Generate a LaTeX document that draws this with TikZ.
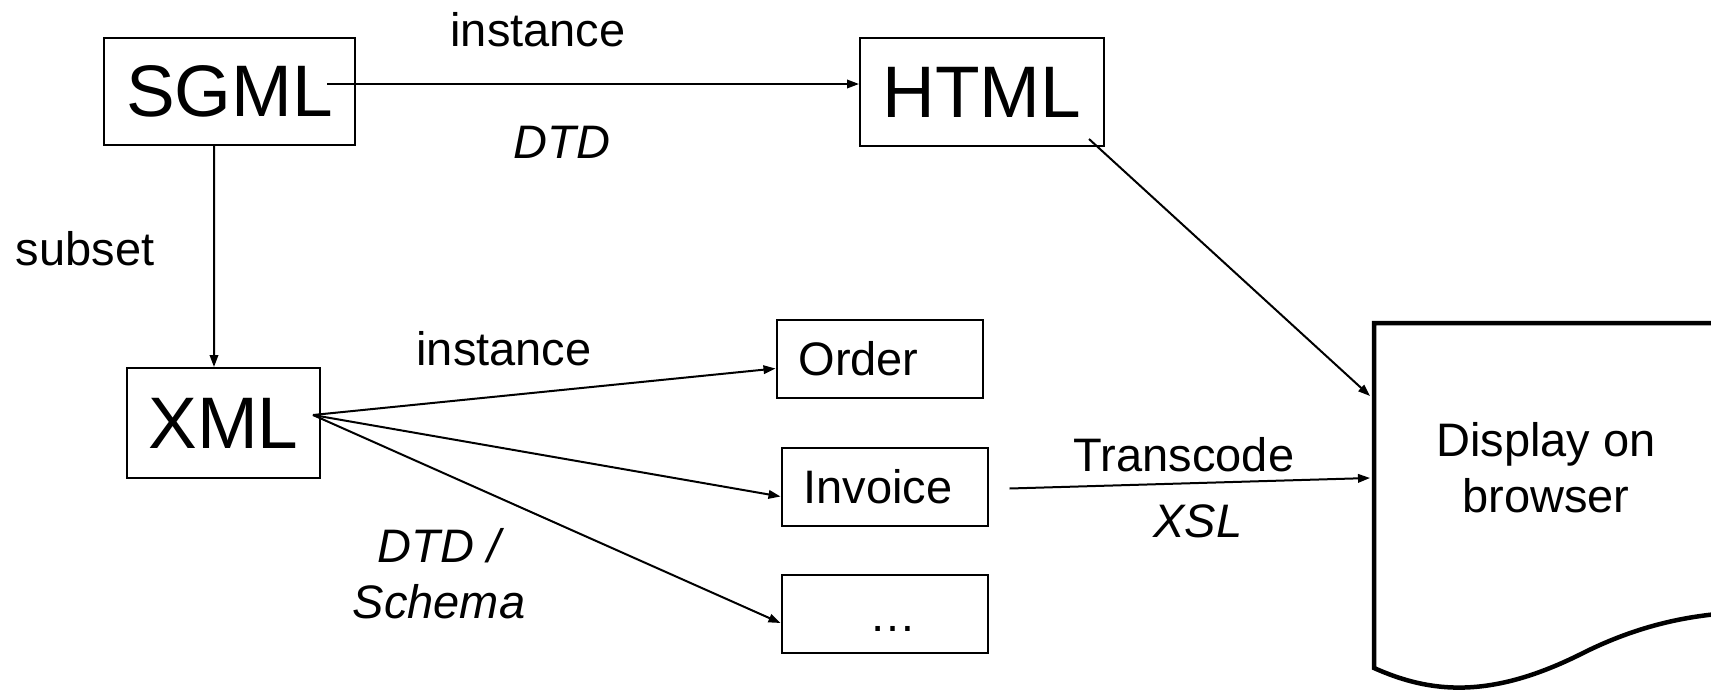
\documentclass[tikz,border=0pt]{standalone}
\usepackage{fontspec}
\setmainfont{Liberation Sans}
\usetikzlibrary{arrows.meta}
\tikzset{
  font={\fontsize{47pt}{56pt}\selectfont}}

\begin{document}
\begin{tikzpicture}[x=10pt,y=10pt]
\tikzstyle{every node}+=[inner sep=0pt]
\tikzstyle{lang}=[draw, line width=2pt, font={\fontsize{73pt}{88pt}\selectfont}]
\tikzstyle{doc}=[draw, line width=2pt, align=left, inner xsep=22pt, text width=162pt, minimum height=78pt]
\tikzstyle{slanted}=[font={\fontsize{47pt}{56pt}\selectfont\itshape}]
\tikzstyle{link}=[line width=2pt, -{Triangle[length=12pt,width=8.5pt]}]
\useasboundingbox (0,0) rectangle (171.1,-69.1);
% languages
\node [lang, minimum width=251pt, minimum height=107pt] (sgml) at (22.95,-9.15) {SGML};
\node [lang, minimum width=244pt, minimum height=108pt] (html) at (98.2,-9.2) {HTML};
\node [lang, minimum width=193pt, minimum height=110pt] (xml) at (22.35,-42.3) {XML};
% documents
\node [doc] (order) at (87.95,-35.85) {Order};
\node [doc] (invoice) at (88.45,-48.65) {Invoice};
\node [doc] (more) at (88.45,-61.4) {\hspace*{66pt}\raisebox{-34pt}{\ldots}};
% labels
\node (inst1) at (53.8,-3.0) {instance};
\node [slanted] (dtd1) at (56.2,-14.2) {DTD};
\node (subset) at (8.5,-24.9) {subset};
\node (inst2) at (50.4,-34.9) {instance};
\node [slanted, align=center] (dtd2) at (43.9,-57.4) {DTD /\\Schema};
\node (trans) at (118.4,-45.5) {Transcode};
\node [slanted] (xsl) at (119.8,-52.1) {XSL};
% browser page
\draw [line width=4.5pt, line join=miter] (176,-32.3) -- (137.4,-32.3) -- (137.4,-66.8)
  .. controls (143.0,-69.3) and (149.0,-70.0) .. (158.3,-65.3)
  .. controls (164.3,-62.3) and (170.0,-61.2) .. (176.0,-61.2);
\node [align=center] (display) at (154.6,-46.8) {Display on\\browser};
\coordinate (sgmlout) at (32.7,-8.4);
\coordinate (xmlout) at (31.3,-41.5);
\coordinate (browser1) at (137.0,-39.6);
\coordinate (browser2) at (137.0,-47.8);
% arrows
\draw [link] (sgmlout) -- (html.west |- sgmlout);
\draw [link] ([xshift=-15.5pt]sgml.south) -- ([xshift=-9.5pt]xml.north);
\draw [link] (xmlout) -- ([yshift=-10pt]order.west);
\draw [link] (xmlout) -- ([yshift=-10pt]invoice.west);
\draw [link] (xmlout) -- ([yshift=-9pt]more.west);
\draw [link] ([xshift=21pt,yshift=-2pt]invoice.east) -- (browser2);
\draw [link] ([xshift=-16pt,yshift=8pt]html.south east) -- (browser1);
\end{tikzpicture}
\end{document}
